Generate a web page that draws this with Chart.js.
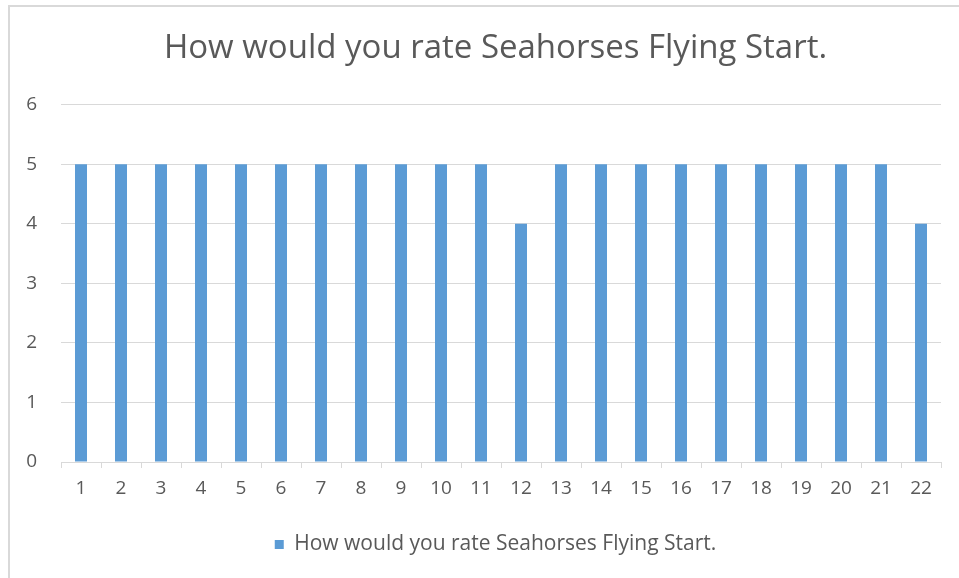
<!DOCTYPE html>
<html>
<head>
<meta charset="utf-8">
<script src="https://cdn.jsdelivr.net/npm/chart.js@4"></script>
<style>
  html, body { margin: 0; padding: 0; background: #fff; overflow: hidden; }
  #wrap { position: relative; width: 959px; height: 578px; overflow: hidden; }
  #frame { position: absolute; left: 8px; top: 5px; right: 0; bottom: 0;
           border-left: 2px solid #d9d9d9; border-top: 2px solid #d9d9d9; }
  canvas { position: absolute; left: 0; top: 0; }
</style>
</head>
<body>
<div id="wrap">
  <div id="frame"></div>
  <canvas id="myChart" width="990" height="578"></canvas>
</div>
<script>
(function(){
const title = 'How would you rate Seahorses Flying Start.';
const labels = ['1','2','3','4','5','6','7','8','9','10','11','12','13','14','15','16','17','18','19','20','21','22'];
const ratings = [5,5,5,5,5,5,5,5,5,5,5,4,5,5,5,5,5,5,5,5,5,4];
const yTicks = [0,1,2,3,4,5,6];

const textColor = '#595959';
const gridColor = '#d9d9d9';
const font = "'Open Sans', sans-serif";

// the original chart is wider than the screenshot; an empty right axis keeps
// the plot where it was while title and legend stay centred on the full box
new Chart(document.getElementById('myChart'), {
  type: 'bar',
  data: {
    labels: labels,
    datasets: [{
      label: title,
      data: ratings,
      backgroundColor: '#5b9bd5',
      borderWidth: 0,
      categoryPercentage: 1,
      barPercentage: 0.3,
    }]
  },
  options: {
    responsive: false,
    animation: false,
    layout: { padding: { left: 10, right: 9, top: 0, bottom: 13 } },
    plugins: {
      title: {
        display: true,
        text: title,
        color: textColor,
        font: { family: font, size: 33, weight: 'normal' },
        padding: { top: 29, bottom: 36 }
      },
      legend: {
        position: 'bottom',
        labels: {
          color: textColor,
          font: { family: font, size: 21 },
          usePointStyle: true,
          pointStyle: 'rect',
          boxWidth: 9,
          boxHeight: 9,
          padding: 10
        }
      },
      tooltip: { enabled: false }
    },
    scales: {
      x: {
        grid: { drawOnChartArea: false, drawTicks: true, tickLength: 6, color: gridColor },
        border: { color: gridColor, width: 1 },
        ticks: { color: textColor, font: { family: font, size: 19 }, padding: 9, maxRotation: 0 },
        afterFit: (s) => { s.height = 62; }
      },
      y: {
        min: 0,
        max: 6,
        afterBuildTicks: (s) => { s.ticks = yTicks.map(v => ({ value: v })); },
        grid: { drawTicks: false, color: gridColor },
        border: { display: false },
        ticks: { color: textColor, font: { family: font, size: 19 }, padding: 24 },
        afterFit: (s) => { s.width = 51; }
      },
      spacer: {
        type: 'linear',
        position: 'right',
        grid: { display: false },
        border: { display: false },
        ticks: { display: false },
        afterFit: (s) => { s.width = 40; }
      }
    }
  }
});
})();
</script>
</body>
</html>
